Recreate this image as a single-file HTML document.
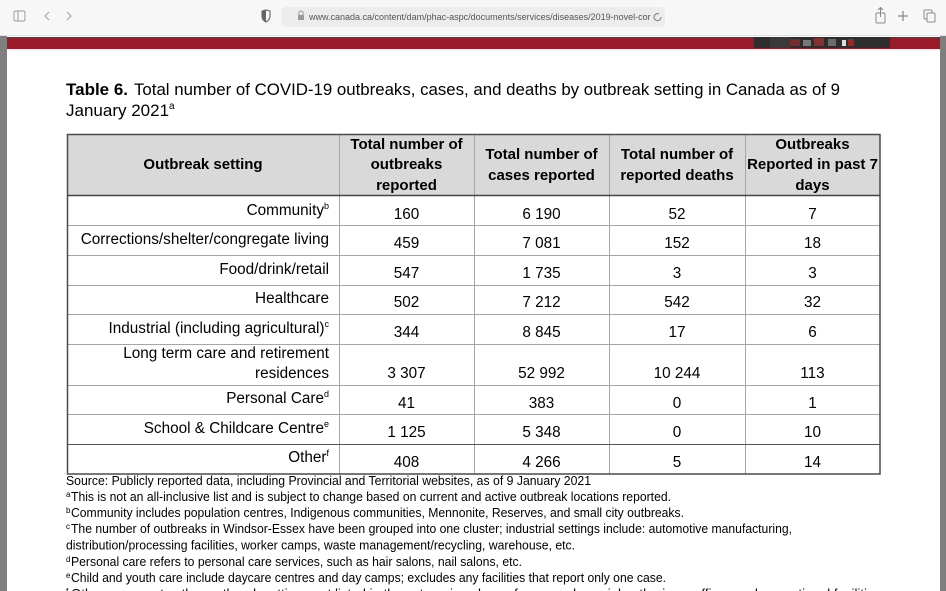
<!DOCTYPE html>
<html><head><meta charset="utf-8"><style>
html,body{margin:0;padding:0;background:#fff;}
svg{display:block;}
text{font-family:"Liberation Sans",Arial,sans-serif;fill:#000;}
.h{font-weight:bold;font-size:15px;text-anchor:middle;}
.l{font-size:15.3px;text-anchor:end;}
.v{font-size:15.3px;text-anchor:middle;}
.f{font-size:13px;}
.s{font-size:8px;}
</style></head><body>
<svg width="946" height="591" viewBox="0 0 946 591" xmlns="http://www.w3.org/2000/svg">
<!-- browser toolbar -->
<rect x="0" y="0" width="946" height="36" fill="#f7f7f7"/>
<line x1="0" y1="35.5" x2="946" y2="35.5" stroke="#e2e2e2"/>
<rect x="14" y="11" width="11" height="10" rx="1.5" fill="none" stroke="#9a9a9a" stroke-width="1"/>
<line x1="18" y1="11" x2="18" y2="21" stroke="#9a9a9a"/>
<path d="M49 12 L45 16 L49 20" fill="none" stroke="#a8a8a8" stroke-width="1.2"/>
<path d="M67 12 L71 16 L67 20" fill="none" stroke="#a8a8a8" stroke-width="1.2"/>
<path d="M262 11 L266 10 L270 11 L270 16 Q270 20 266 22 Q262 20 262 16 Z" fill="none" stroke="#666" stroke-width="1.1"/>
<path d="M266 10 L266 22 Q262 20 262 16 L262 11 Z" fill="#666"/>
<rect x="281" y="7" width="384" height="20" rx="5" fill="#ececec"/>
<rect x="298" y="15" width="6" height="5" fill="#999"/>
<path d="M299 15 V13 A2 2 0 0 1 303 13 V15" fill="none" stroke="#999"/>
<text x="309" y="20" style="font-size:9px;fill:#555;">www.canada.ca/content/dam/phac-aspc/documents/services/diseases/2019-novel-cor</text>
<path d="M659 14 A3.5 3.5 0 1 0 661 17" fill="none" stroke="#777" stroke-width="1"/>
<rect x="876" y="13" width="9" height="10" rx="1" fill="none" stroke="#888"/>
<line x1="880.5" y1="8" x2="880.5" y2="17" stroke="#888"/>
<path d="M878 10 L880.5 7.5 L883 10" fill="none" stroke="#888"/>
<line x1="898" y1="16" x2="908" y2="16" stroke="#888" stroke-width="1.2"/>
<line x1="903" y1="11" x2="903" y2="21" stroke="#888" stroke-width="1.2"/>
<rect x="924" y="10" width="8" height="9" rx="1" fill="none" stroke="#888"/>
<rect x="927" y="13" width="8" height="9" rx="1" fill="#f7f7f7" stroke="#888"/>

<!-- page frame -->
<rect x="0" y="36" width="7" height="555" fill="#7f7f7f"/>
<rect x="940" y="36" width="6" height="555" fill="#7f7f7f"/>
<rect x="7" y="37" width="933" height="12" fill="#9a1b29"/>
<rect x="754" y="37" width="136" height="11" fill="#2e2e2e"/>
<rect x="770" y="37" width="20" height="11" fill="#3a3a3a"/>
<rect x="790" y="39" width="10" height="7" fill="#8a2a30" opacity="0.8"/>
<rect x="803" y="40" width="8" height="6" fill="#999" opacity="0.7"/>
<rect x="814" y="38" width="10" height="8" fill="#a33" opacity="0.7"/>
<rect x="828" y="39" width="8" height="7" fill="#888" opacity="0.7"/>
<rect x="842" y="40" width="4" height="6" fill="#ddd"/>
<rect x="848" y="39" width="6" height="7" fill="#b22" opacity="0.8"/>

<!-- title -->
<text x="66" y="95" style="font-size:17px;font-weight:bold;" textLength="62" lengthAdjust="spacingAndGlyphs">Table 6.</text>
<text x="134" y="95" style="font-size:17px;" textLength="706" lengthAdjust="spacingAndGlyphs">Total number of COVID-19 outbreaks, cases, and deaths by outbreak setting in Canada as of 9</text>
<text x="66" y="116" style="font-size:17px;">January 2021<tspan dy="-7" style="font-size:10px;">a</tspan></text>

<!-- table -->
<rect x="67" y="134" width="813" height="61" fill="#d9d9d9"/>
<g stroke="#a6a6a6" stroke-width="1">
<line x1="67" y1="225.5" x2="880" y2="225.5"/>
<line x1="67" y1="255.5" x2="880" y2="255.5"/>
<line x1="67" y1="285.5" x2="880" y2="285.5"/>
<line x1="67" y1="314.5" x2="880" y2="314.5"/>
<line x1="67" y1="344.5" x2="880" y2="344.5"/>
<line x1="67" y1="385.5" x2="880" y2="385.5"/>
<line x1="67" y1="414.5" x2="880" y2="414.5"/>
<line x1="339.5" y1="134" x2="339.5" y2="474"/>
<line x1="474.5" y1="134" x2="474.5" y2="474"/>
<line x1="609.5" y1="134" x2="609.5" y2="474"/>
<line x1="745.5" y1="134" x2="745.5" y2="474"/>
</g>
<line x1="67" y1="444.5" x2="880" y2="444.5" stroke="#555" stroke-width="1"/>
<line x1="67" y1="195.5" x2="880" y2="195.5" stroke="#444" stroke-width="1.5"/>
<rect x="67.5" y="134.5" width="812.5" height="339.5" fill="none" stroke="#4a4a4a" stroke-width="1.5"/>

<!-- headers -->
<text class="h" x="203" y="169">Outbreak setting</text>
<text class="h" x="406.5" y="149">Total number of</text>
<text class="h" x="406.5" y="169">outbreaks</text>
<text class="h" x="406.5" y="190">reported</text>
<text class="h" x="541.5" y="159">Total number of</text>
<text class="h" x="541.5" y="180">cases reported</text>
<text class="h" x="677" y="159">Total number of</text>
<text class="h" x="677" y="180">reported deaths</text>
<text class="h" x="812.5" y="149">Outbreaks</text>
<text class="h" x="812.5" y="169">Reported in past 7</text>
<text class="h" x="812.5" y="190">days</text>

<!-- labels -->
<text class="l" x="329" y="215">Community<tspan dy="-6" style="font-size:9px;">b</tspan></text>
<text class="l" x="329" y="244">Corrections/shelter/congregate living</text>
<text class="l" x="329" y="274">Food/drink/retail</text>
<text class="l" x="329" y="303">Healthcare</text>
<text class="l" x="329" y="333">Industrial (including agricultural)<tspan dy="-6" style="font-size:9px;">c</tspan></text>
<text class="l" x="329" y="358">Long term care and retirement</text>
<text class="l" x="329" y="378">residences</text>
<text class="l" x="329" y="403">Personal Care<tspan dy="-6" style="font-size:9px;">d</tspan></text>
<text class="l" x="329" y="433">School &amp; Childcare Centre<tspan dy="-6" style="font-size:9px;">e</tspan></text>
<text class="l" x="329" y="462">Other<tspan dy="-6" style="font-size:9px;">f</tspan></text>

<!-- values -->
<text class="v" x="406.5" y="219">160</text><text class="v" x="541.5" y="219">6 190</text><text class="v" x="677" y="219">52</text><text class="v" x="812.5" y="219">7</text>
<text class="v" x="406.5" y="248">459</text><text class="v" x="541.5" y="248">7 081</text><text class="v" x="677" y="248">152</text><text class="v" x="812.5" y="248">18</text>
<text class="v" x="406.5" y="278">547</text><text class="v" x="541.5" y="278">1 735</text><text class="v" x="677" y="278">3</text><text class="v" x="812.5" y="278">3</text>
<text class="v" x="406.5" y="307">502</text><text class="v" x="541.5" y="307">7 212</text><text class="v" x="677" y="307">542</text><text class="v" x="812.5" y="307">32</text>
<text class="v" x="406.5" y="337">344</text><text class="v" x="541.5" y="337">8 845</text><text class="v" x="677" y="337">17</text><text class="v" x="812.5" y="337">6</text>
<text class="v" x="406.5" y="378">3 307</text><text class="v" x="541.5" y="378">52 992</text><text class="v" x="677" y="378">10 244</text><text class="v" x="812.5" y="378">113</text>
<text class="v" x="406.5" y="408">41</text><text class="v" x="541.5" y="408">383</text><text class="v" x="677" y="408">0</text><text class="v" x="812.5" y="408">1</text>
<text class="v" x="406.5" y="437">1 125</text><text class="v" x="541.5" y="437">5 348</text><text class="v" x="677" y="437">0</text><text class="v" x="812.5" y="437">10</text>
<text class="v" x="406.5" y="467">408</text><text class="v" x="541.5" y="467">4 266</text><text class="v" x="677" y="467">5</text><text class="v" x="812.5" y="467">14</text>

<!-- footnotes -->
<text class="f" x="66" y="485" textLength="525" lengthAdjust="spacingAndGlyphs">Source: Publicly reported data, including Provincial and Territorial websites, as of 9 January 2021</text>
<text class="s" x="66" y="497">a</text>
<text class="f" x="71" y="501" textLength="600" lengthAdjust="spacingAndGlyphs">This is not an all-inclusive list and is subject to change based on current and active outbreak locations reported.</text>
<text class="s" x="66" y="513">b</text>
<text class="f" x="71" y="517" textLength="613" lengthAdjust="spacingAndGlyphs">Community includes population centres, Indigenous communities, Mennonite, Reserves, and small city outbreaks.</text>
<text class="s" x="66" y="529">c</text>
<text class="f" x="71" y="533" textLength="721" lengthAdjust="spacingAndGlyphs">The number of outbreaks in Windsor-Essex have been grouped into one cluster; industrial settings include: automotive manufacturing,</text>
<text class="f" x="66" y="549.5" textLength="509" lengthAdjust="spacingAndGlyphs">distribution/processing facilities, worker camps, waste management/recycling, warehouse, etc.</text>
<text class="s" x="66" y="562">d</text>
<text class="f" x="71" y="566" textLength="451" lengthAdjust="spacingAndGlyphs">Personal care refers to personal care services, such as hair salons, nail salons, etc.</text>
<text class="s" x="66" y="578">e</text>
<text class="f" x="71" y="582" textLength="595" lengthAdjust="spacingAndGlyphs">Child and youth care include daycare centres and day camps; excludes any facilities that report only one case.</text>
<text class="s" x="66" y="594">f</text>
<text class="f" x="71" y="598" textLength="810" lengthAdjust="spacingAndGlyphs">Other represents other outbreak settings not listed in the categories above, for example social gatherings, offices and correctional facilities</text>
</svg>
</body></html>
